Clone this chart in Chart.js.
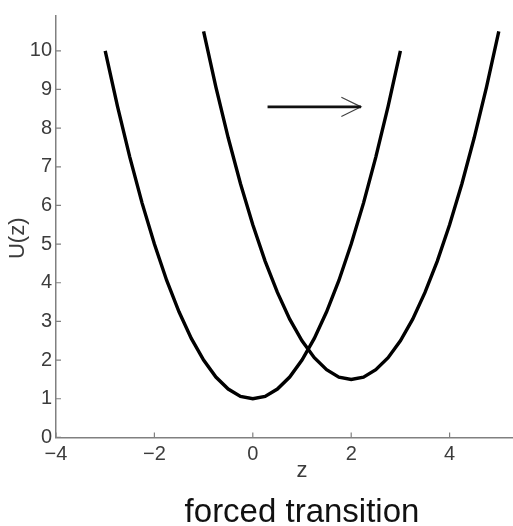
<!DOCTYPE html>
<html>
<head>
<meta charset="utf-8">
<script src="https://cdn.jsdelivr.net/npm/chart.js@4.4.1/dist/chart.umd.min.js"></script>
<style>
  html, body { margin: 0; padding: 0; background: #fff; }
  #wrap { width: 513px; height: 526px; overflow: hidden; }
</style>
</head>
<body>
<div id="wrap"><canvas id="myChart" width="550" height="526"></canvas></div>
<script>
// left well, centred at z = 0
var zLeft = [-3, -2.75, -2.5, -2.25, -2, -1.75, -1.5, -1.25, -1, -0.75, -0.5, -0.25, 0,
             0.25, 0.5, 0.75, 1, 1.25, 1.5, 1.75, 2, 2.25, 2.5, 2.75, 3];
var uLeft = [10, 8.56, 7.25, 6.06, 5, 4.06, 3.25, 2.56, 2, 1.56, 1.25, 1.06, 1,
             1.06, 1.25, 1.56, 2, 2.56, 3.25, 4.06, 5, 6.06, 7.25, 8.56, 10];

// right well, centred at z = 2
var zRight = [-1, -0.75, -0.5, -0.25, 0, 0.25, 0.5, 0.75, 1, 1.25, 1.5, 1.75, 2,
              2.25, 2.5, 2.75, 3, 3.25, 3.5, 3.75, 4, 4.25, 4.5, 4.75, 5];
var uRight = [10.5, 9.06, 7.75, 6.56, 5.5, 4.56, 3.75, 3.06, 2.5, 2.06, 1.75, 1.56, 1.5,
              1.56, 1.75, 2.06, 2.5, 3.06, 3.75, 4.56, 5.5, 6.56, 7.75, 9.06, 10.5];

// arrow
var arrowZ = [0.3, 2.2];
var arrowU = [8.55, 8.55];
var headZ = [1.8, 2.2, 1.8];
var headU = [8.8, 8.55, 8.3];

var xTicks = [-4, -2, 0, 2, 4];
var yTicks = [0, 1, 2, 3, 4, 5, 6, 7, 8, 9, 10];

var axisColor = '#808080';
var textColor = '#3c3c3c';
var fontFam = 'Liberation Sans, Arial, sans-serif';

function toPoints(xs, ys) {
  var pts = [];
  for (var i = 0; i < xs.length; i++) {
    pts.push({ x: xs[i], y: ys[i] });
  }
  return pts;
}

function setTicks(values) {
  return function (scale) {
    scale.ticks = values.map(function (v) { return { value: v }; });
  };
}

function fmt(v) {
  return v < 0 ? '\u2212' + Math.abs(v) : String(v);
}

// small ticks pointing into the plot + the U(z) label
var extras = {
  id: 'extras',
  afterDraw: function (chart) {
    var ctx = chart.ctx;
    var xs = chart.scales.x;
    var ys = chart.scales.y;
    var area = chart.chartArea;
    ctx.save();
    ctx.strokeStyle = axisColor;
    ctx.lineWidth = 1.2;
    ctx.beginPath();
    for (var i = 0; i < xTicks.length; i++) {
      var px = xs.getPixelForValue(xTicks[i]);
      ctx.moveTo(px, area.bottom);
      ctx.lineTo(px, area.bottom - 5);
    }
    for (var j = 0; j < yTicks.length; j++) {
      var py = ys.getPixelForValue(yTicks[j]);
      ctx.moveTo(area.left, py);
      ctx.lineTo(area.left + 5, py);
    }
    ctx.stroke();

    ctx.translate(18, ys.getPixelForValue(5.15));
    ctx.rotate(-Math.PI / 2);
    ctx.fillStyle = textColor;
    ctx.font = '22px ' + fontFam;
    ctx.textAlign = 'center';
    ctx.textBaseline = 'middle';
    ctx.fillText('U(z)', 0, 0);
    ctx.restore();
  }
};

var ctx = document.getElementById('myChart').getContext('2d');
var chart = new Chart(ctx, {
  type: 'scatter',
  data: {
    datasets: [{
      data: toPoints(zLeft, uLeft),
      showLine: true,
      borderColor: '#000',
      borderWidth: 3.4,
      pointRadius: 0,
      tension: 0
    }, {
      data: toPoints(zRight, uRight),
      showLine: true,
      borderColor: '#000',
      borderWidth: 3.4,
      pointRadius: 0,
      tension: 0
    }, {
      data: toPoints(arrowZ, arrowU),
      showLine: true,
      borderColor: '#111',
      borderWidth: 2.6,
      pointRadius: 0
    }, {
      data: toPoints(headZ, headU),
      showLine: true,
      borderColor: '#444',
      borderWidth: 1.2,
      pointRadius: 0
    }]
  },
  options: {
    responsive: false,
    animation: false,
    layout: { padding: { left: 0, top: 15, right: 2, bottom: 0 } },
    plugins: {
      legend: { display: false },
      tooltip: { enabled: false },
      title: {
        display: true,
        text: 'forced transition',
        position: 'bottom',
        fullSize: false,
        color: '#111',
        font: { family: fontFam, size: 33, weight: 'normal' },
        padding: { top: 7, bottom: -7 }
      }
    },
    scales: {
      x: {
        type: 'linear',
        min: -4,
        max: 6,
        afterBuildTicks: setTicks(xTicks),
        afterFit: function (scale) { scale.height = 49; },
        grid: { display: false, drawTicks: false },
        border: { display: true, color: axisColor, width: 1.5 },
        ticks: {
          autoSkip: false,
          maxRotation: 0,
          padding: 5,
          color: textColor,
          font: { family: fontFam, size: 20 },
          callback: function (v) { return fmt(v); }
        },
        title: {
          display: true,
          text: 'z',
          color: textColor,
          font: { family: fontFam, size: 22 },
          padding: { top: 0, bottom: 2 }
        }
      },
      y: {
        type: 'linear',
        min: 0,
        max: 10.9,
        afterBuildTicks: setTicks(yTicks),
        afterFit: function (scale) { scale.width = 56; },
        grid: { display: false, drawTicks: false },
        border: { display: true, color: axisColor, width: 1.5 },
        ticks: {
          autoSkip: false,
          padding: 4,
          color: textColor,
          font: { family: fontFam, size: 20 },
          callback: function (v) { return fmt(v); }
        }
      }
    }
  },
  plugins: [extras]
});
</script>
</body>
</html>
